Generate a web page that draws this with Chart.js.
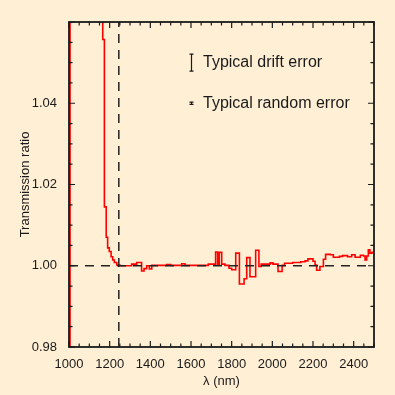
<!DOCTYPE html>
<html>
<head>
<meta charset="utf-8">
<script src="https://cdn.jsdelivr.net/npm/chart.js@4.4.1/dist/chart.umd.min.js"></script>
<style>
  html, body { margin: 0; padding: 0; background: #ffefd5; }
</style>
</head>
<body>
<canvas id="ratioChart" width="395" height="395"></canvas>
<script>
// left edge of each step (nm) and the ratio held until the next edge
const binStart = [
  1000, 1005, 1166, 1174, 1183, 1190, 1198, 1207, 1215, 1223, 1235, 1250,
  1308, 1333, 1357, 1369, 1382, 1395, 1407, 1480, 1500, 1554, 1570, 1685,
  1721, 1731, 1739, 1751, 1767, 1787, 1800, 1820, 1838, 1861, 1874, 1890,
  1918, 1934, 1945, 1989, 2003, 2028, 2048, 2060, 2100, 2140, 2161, 2175,
  2200, 2210, 2218, 2234, 2251, 2262, 2284, 2300, 2330, 2345, 2370, 2390,
  2407, 2433, 2448, 2456, 2464, 2472, 2480, 2490
];
const ratio = [
  0.950, 1.250, 1.0557, 1.0145, 1.0070, 1.0044, 1.0035, 1.0022, 1.0014, 1.0008, 1.0002, 1.0000,
  1.0004, 1.0008, 0.9987, 0.9993, 1.0000, 0.9992, 1.0001, 1.0003, 1.0001, 1.0005, 1.0001, 1.0004,
  1.0034, 1.0004, 1.0033, 1.0004, 1.0001, 0.9994, 0.9990, 1.0031, 0.9955, 0.9968, 1.0020, 0.9973,
  1.0038, 0.9998, 1.0004, 1.0007, 1.0004, 0.9986, 1.0001, 1.0006, 1.0008, 1.0010, 1.0012, 1.0017,
  1.0011, 1.0002, 0.9989, 0.9998, 1.0016, 1.0028, 1.0027, 1.0021, 1.0023, 1.0025, 1.0022, 1.0027,
  1.0021, 1.0026, 1.0024, 1.0014, 1.0024, 1.0039, 1.0031, 1.0033
];
const xTickLabels = [1000, 1200, 1400, 1600, 1800, 2000, 2200, 2400];
const yTickLabels = [0.98, 1.00, 1.02, 1.04];
const cutoffWavelength = 1245;

const noteLabels = ['Typical drift error', 'Typical random error'];
const noteCentres = [1.0500, 1.0400];
const noteHalfErrors = [0.0021, 0.0003];
const noteWavelength = 1600;

const X_MIN = 1000, X_MAX = 2500, Y_MIN = 0.98, Y_MAX = 1.06;
const FONT = '"Liberation Sans", Arial, Helvetica, sans-serif';
const INK = '#1a1a1a';

const steps = binStart.map((x, i) => ({ x, y: ratio[i] }));
steps.push({ x: X_MAX, y: ratio[ratio.length - 1] });

const background = {
  id: 'background',
  beforeDraw(chart) {
    const { ctx, width, height } = chart;
    ctx.save();
    ctx.fillStyle = '#ffefd5';
    ctx.fillRect(0, 0, width, height);
    ctx.restore();
  }
};

// box round the plot with ticks pointing inwards on every side
const frame = {
  id: 'frame',
  afterDatasetsDraw(chart) {
    const { ctx, chartArea: a, scales: { x, y } } = chart;
    ctx.save();
    ctx.strokeStyle = INK;
    ctx.lineWidth = 1.2;
    ctx.beginPath();
    for (let v = X_MIN; v <= X_MAX; v += 50) {
      const px = x.getPixelForValue(v);
      const len = v % 200 === 0 ? 6 : 3.5;
      ctx.moveTo(px, a.bottom); ctx.lineTo(px, a.bottom - len);
      ctx.moveTo(px, a.top); ctx.lineTo(px, a.top + len);
    }
    for (let k = 0; k <= 16; k++) {
      const py = y.getPixelForValue(Y_MIN + k * 0.005);
      const len = k % 4 === 0 ? 6 : 3.5;
      ctx.moveTo(a.left, py); ctx.lineTo(a.left + len, py);
      ctx.moveTo(a.right, py); ctx.lineTo(a.right - len, py);
    }
    ctx.stroke();
    ctx.lineWidth = 1.8;
    ctx.strokeRect(a.left, a.top, a.right - a.left, a.bottom - a.top);
    ctx.restore();
  }
};

const notes = {
  id: 'notes',
  afterDraw(chart) {
    const { ctx, scales: { x, y } } = chart;
    const px = Math.round(x.getPixelForValue(noteWavelength)) + 0.5;
    ctx.save();
    ctx.strokeStyle = INK;
    ctx.fillStyle = INK;
    ctx.lineWidth = 1.2;
    ctx.font = '16px ' + FONT;
    ctx.textBaseline = 'middle';
    noteLabels.forEach((label, i) => {
      const top = y.getPixelForValue(noteCentres[i] + noteHalfErrors[i]);
      const bottom = y.getPixelForValue(noteCentres[i] - noteHalfErrors[i]);
      ctx.beginPath();
      ctx.moveTo(px, top); ctx.lineTo(px, bottom);
      ctx.moveTo(px - 2, top); ctx.lineTo(px + 2, top);
      ctx.moveTo(px - 2, bottom); ctx.lineTo(px + 2, bottom);
      ctx.stroke();
      ctx.fillText(label, px + 11.5, y.getPixelForValue(noteCentres[i]));
    });
    ctx.restore();
  }
};

new Chart(document.getElementById('ratioChart'), {
  type: 'line',
  data: {
    datasets: [
      {
        data: [{ x: X_MIN, y: 1 }, { x: X_MAX, y: 1 }],
        borderColor: '#222',
        borderWidth: 1.5,
        borderDash: [9, 7]
      },
      {
        data: [{ x: cutoffWavelength, y: Y_MIN }, { x: cutoffWavelength, y: Y_MAX }],
        borderColor: '#222',
        borderWidth: 1.5,
        borderDash: [9, 7]
      },
      {
        data: steps,
        borderColor: '#ff0000',
        borderWidth: 1.6,
        stepped: 'before'
      }
    ]
  },
  options: {
    responsive: false,
    animation: false,
    devicePixelRatio: 1,
    layout: { padding: { top: 22, right: 21, left: 0, bottom: 0 } },
    elements: { point: { radius: 0 }, line: { tension: 0 } },
    plugins: { legend: { display: false }, tooltip: { enabled: false } },
    scales: {
      x: {
        type: 'linear',
        min: X_MIN,
        max: X_MAX,
        afterBuildTicks: s => { s.ticks = xTickLabels.map(value => ({ value })); },
        afterFit: s => { s.height = 48; },
        grid: { display: false },
        border: { display: false },
        ticks: {
          font: { family: FONT, size: 13 },
          color: INK,
          padding: 2,
          maxRotation: 0,
          autoSkip: false,
          callback: v => String(v)
        },
        title: { display: true, text: 'λ (nm)', font: { family: FONT, size: 13 }, color: INK, padding: { top: 0, bottom: 6 } }
      },
      y: {
        type: 'linear',
        min: Y_MIN,
        max: Y_MAX,
        afterBuildTicks: s => { s.ticks = yTickLabels.map(value => ({ value })); },
        afterFit: s => { s.width = 69; },
        grid: { display: false },
        border: { display: false },
        ticks: {
          font: { family: FONT, size: 13 },
          color: INK,
          padding: 4,
          callback: v => Number(v).toFixed(2)
        },
        title: { display: true, text: 'Transmission ratio', font: { family: FONT, size: 13 }, color: INK, padding: { top: 18, bottom: 0 } }
      }
    }
  },
  plugins: [background, frame, notes]
});
</script>
</body>
</html>
